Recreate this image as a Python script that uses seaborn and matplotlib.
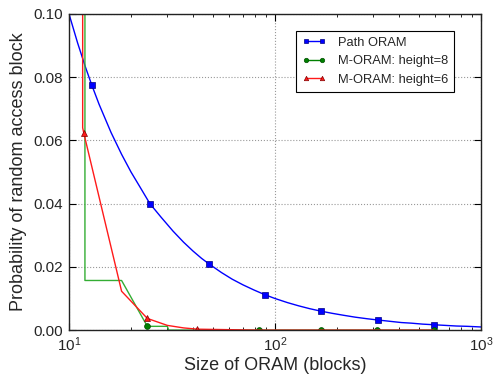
import matplotlib
matplotlib.use("Agg")
import matplotlib.pyplot as plt
import seaborn as sns
import numpy as np
import pandas as pd
from matplotlib.lines import Line2D
from matplotlib.ticker import FormatStrFormatter

# ---- data ----
path_x = [10, 11, 12, 12.9, 14, 16, 18, 20, 22, 24.7, 28, 32, 36, 40, 44, 47.9, 55, 62, 70, 79,
          89.3, 100, 115, 130, 147, 167, 190, 215, 245, 280, 316, 360, 410, 460, 520, 591, 670,
          760, 860, 1000]
path_y = [0.100, 0.0909, 0.0833, 0.0775, 0.0714, 0.0625, 0.0556, 0.0500, 0.0455, 0.0400, 0.0357,
          0.0313, 0.0278, 0.0250, 0.0227, 0.0209, 0.0182, 0.0161, 0.0143, 0.0127, 0.0112, 0.0100,
          0.0087, 0.0077, 0.0068, 0.0060, 0.0053, 0.0047, 0.0041, 0.0036, 0.0032, 0.0028, 0.0024,
          0.0022, 0.0019, 0.0017, 0.0015, 0.0013, 0.0012, 0.0010]
path_marks = [3, 9, 15, 20, 25, 30, 35]

m8_x = [11.95, 11.95, 18, 24, 30, 30.5, 84, 167, 313, 591]
m8_y = [1.0, 0.0157, 0.0157, 0.0012, 0.0012, 0.0, 0.0, 0.0, 0.0, 0.0]
m8_marks = [3, 6, 7, 8, 9]

m6_x = [11.65, 11.65, 11.8, 18, 24, 30, 36, 42, 84, 167, 313, 591]
m6_y = [1.0, 0.064, 0.0623, 0.0123, 0.0037, 0.0015, 0.0007, 0.0003, 0.0, 0.0, 0.0, 0.0]
m6_marks = [2, 4, 7]

labels = ["Path ORAM", "M-ORAM: height=8", "M-ORAM: height=6"]
y_ticks = [0.00, 0.02, 0.04, 0.06, 0.08, 0.10]

sns.set_theme(style="white")
plt.rcParams.update({
    "font.family": ["Liberation Sans", "DejaVu Sans"],
    "mathtext.fontset": "custom",
    "mathtext.rm": "Liberation Sans",
    "mathtext.it": "Liberation Sans:italic",
    "xtick.direction": "in",
    "ytick.direction": "in",
    "xtick.top": True,
    "ytick.right": True,
    "xtick.bottom": True,
    "ytick.left": True,
})

fig = plt.figure(figsize=(5.0, 3.76), dpi=100)
ax = fig.add_axes([0.138, 0.122, 0.824, 0.841])

blue = (0, 0, 1)
green_line = (0.2, 0.68, 0.2)
green_mark = (0, 0.5, 0)
red = (1, 0.1, 0.1)

ms = 4.2
sns.lineplot(x=path_x, y=path_y, ax=ax, sort=False, estimator=None, color=blue, lw=1,
             marker="s", markersize=ms, markevery=path_marks, markerfacecolor=blue,
             markeredgecolor=(0, 0, 0.5), markeredgewidth=0.5)
sns.lineplot(x=m8_x, y=m8_y, ax=ax, sort=False, estimator=None, color=green_line, lw=1,
             marker="o", markersize=ms, markevery=m8_marks, markerfacecolor=green_mark,
             markeredgecolor=(0, 0.3, 0), markeredgewidth=0.5)
sns.lineplot(x=m6_x, y=m6_y, ax=ax, sort=False, estimator=None, color=red, lw=1,
             marker="^", markersize=ms, markevery=m6_marks, markerfacecolor=red,
             markeredgecolor=(0.5, 0, 0), markeredgewidth=0.5)

ax.set_xscale("log")
ax.set_xlim(10, 1000)
ax.set_ylim(0, 0.10)
ax.set_yticks(y_ticks)
ax.yaxis.set_major_formatter(FormatStrFormatter("%.2f"))

ax.grid(True, which="major", linestyle=":", color="#999999", linewidth=0.8)
ax.tick_params(which="major", length=5, width=0.8, color="black", labelsize=11, pad=4)
ax.tick_params(which="minor", length=2.5, width=0.6, color="black")
for s in ax.spines.values():
    s.set_color("#222222")
    s.set_linewidth(1.0)

ax.set_xlabel("Size of ORAM (blocks)", fontsize=13, labelpad=2)
ax.set_ylabel("Probability of random access block", fontsize=13, labelpad=5)

lms = 3.2
handles = [
    Line2D([0], [0], color=blue, lw=1, marker="s", markersize=lms, markerfacecolor=blue,
           markeredgecolor=(0, 0, 0.5), markeredgewidth=0.5),
    Line2D([0], [0], color=green_mark, lw=1, marker="o", markersize=lms, markerfacecolor=green_mark,
           markeredgecolor=(0, 0.3, 0), markeredgewidth=0.5),
    Line2D([0], [0], color=red, lw=1, marker="^", markersize=lms, markerfacecolor=red,
           markeredgecolor=(0.5, 0, 0), markeredgewidth=0.5),
]
leg = ax.legend(handles, labels, loc="upper right", bbox_to_anchor=(0.934, 0.946),
                borderaxespad=0, fontsize=9.3, numpoints=2, handlelength=1.8,
                frameon=True, fancybox=False, framealpha=1, edgecolor="black",
                borderpad=0.45, labelspacing=0.5, handletextpad=0.95)
leg.get_frame().set_linewidth(0.8)

fig.savefig("out.png", dpi=100)
